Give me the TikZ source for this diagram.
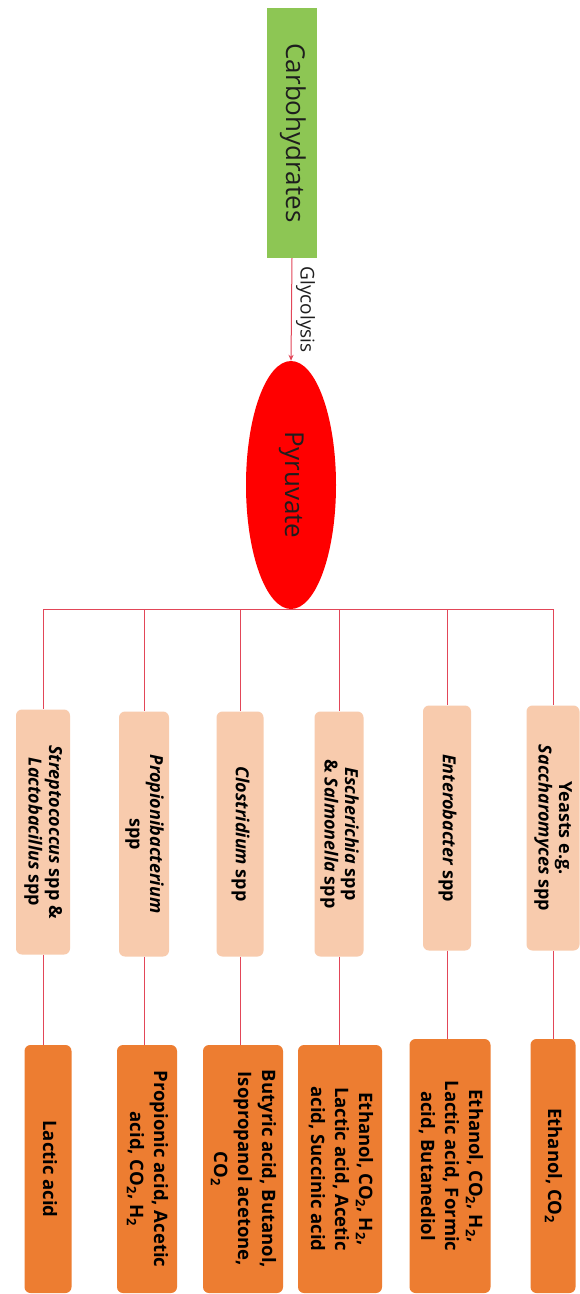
\documentclass[tikz,border=0pt]{standalone}
\usepackage{fontspec}
\setmainfont{Open Sans}
\usepackage{graphicx}
\usetikzlibrary{shapes.geometric,arrows.meta}
\definecolor{carbgreen}{RGB}{141,198,84}
\definecolor{pyrred}{RGB}{255,0,0}
\definecolor{linkred}{RGB}{226,70,88}
\definecolor{peach}{RGB}{248,203,173}
\definecolor{prodorange}{RGB}{237,125,49}
\definecolor{darktext}{RGB}{30,30,30}
% text set to read downwards, lines stacked right to left
\newcommand{\downtext}[1]{\rotatebox{-90}{\begin{tabular}{@{}c@{}}#1\end{tabular}}}
\begin{document}
\begin{tikzpicture}[x=1pt,y=-1pt,
  link/.style={draw=linkred, line width=1pt},
  taxon/.style={fill=peach, rounded corners=6pt, inner sep=0pt,
    font=\bfseries\fontsize{18}{20.5}\selectfont},
  product/.style={fill=prodorange, rounded corners=6pt, inner sep=0pt,
    font=\bfseries\fontsize{18.5}{24}\selectfont}]
\useasboundingbox[fill=white] (0,0) rectangle (580,1294);

% source and glycolysis
\node[fill=carbgreen, minimum width=50pt, minimum height=250pt, inner sep=0pt,
  text=darktext, font=\fontsize{26}{30}\selectfont] (carb) at (292,133) {\downtext{Carbohydrates}};
\node[ellipse, fill=pyrred, minimum width=90pt, minimum height=248pt, inner sep=0pt,
  text=darktext, font=\fontsize{26}{30}\selectfont] (pyr) at (291,485) {\downtext{Pyruvate}};
\draw[link, -{Stealth[length=6pt,width=5pt]}] (carb.south) -- (pyr.north)
  node[midway, right=2pt, inner sep=0pt, text=darktext, font=\fontsize{19}{22}\selectfont] (glyc) {\downtext{Glycolysis}};

% organisms
\node[taxon, minimum width=54pt, minimum height=245pt] (m1) at (43,832) {\downtext{\textit{Streptococcus} spp \&\\\textit{Lactobacillus} spp}};
\node[taxon, minimum width=50pt, minimum height=245pt] (m2) at (144,834) {\downtext{\textit{Propionibacterium}\\spp}};
\node[taxon, minimum width=47pt, minimum height=245pt] (m3) at (240,834) {\downtext{\textit{Clostridium} spp}};
\node[taxon, minimum width=49pt, minimum height=245pt] (m4) at (339,834) {\downtext{\textit{Escherichia} spp\\\& \textit{Salmonella} spp}};
\node[taxon, minimum width=48pt, minimum height=245pt] (m5) at (447,828) {\downtext{\textit{Enterobacter} spp}};
\node[taxon, minimum width=53pt, minimum height=245pt] (m6) at (553,828) {\downtext{Yeasts e.g.\\\textit{Saccharomyces} spp}};

% fermentation products
\node[product, minimum width=47pt, minimum height=248pt] (p1) at (48,1169) {\downtext{Lactic acid}};
\node[product, minimum width=60pt, minimum height=248pt] (p2) at (147,1169) {\downtext{Propionic acid, Acetic\\acid, CO\textsubscript{2}, H\textsubscript{2}}};
\node[product, minimum width=80pt, minimum height=248pt] (p3) at (243,1169) {\downtext{Butyric acid, Butanol,\\Isopropanol acetone,\\CO\textsubscript{2}}};
\node[product, minimum width=84pt, minimum height=248pt] (p4) at (340,1169) {\downtext{Ethanol, CO\textsubscript{2}, H\textsubscript{2},\\Lactic acid, Acetic\\acid, Succinic acid}};
\node[product, minimum width=81pt, minimum height=254pt] (p5) at (450,1166) {\downtext{Ethanol, CO\textsubscript{2}, H\textsubscript{2},\\Lactic acid, Formic\\acid, Butanediol}};
\node[product, minimum width=45pt, minimum height=254pt] (p6) at (553,1166) {\downtext{Ethanol, CO\textsubscript{2}}};

% branching from pyruvate
\foreach \i in {1,...,6} {
  \draw[link] (pyr.south) -| (m\i.north);
  \draw[link] (m\i.south) -- (m\i.south |- p\i.north);
}
\end{tikzpicture}
\end{document}
